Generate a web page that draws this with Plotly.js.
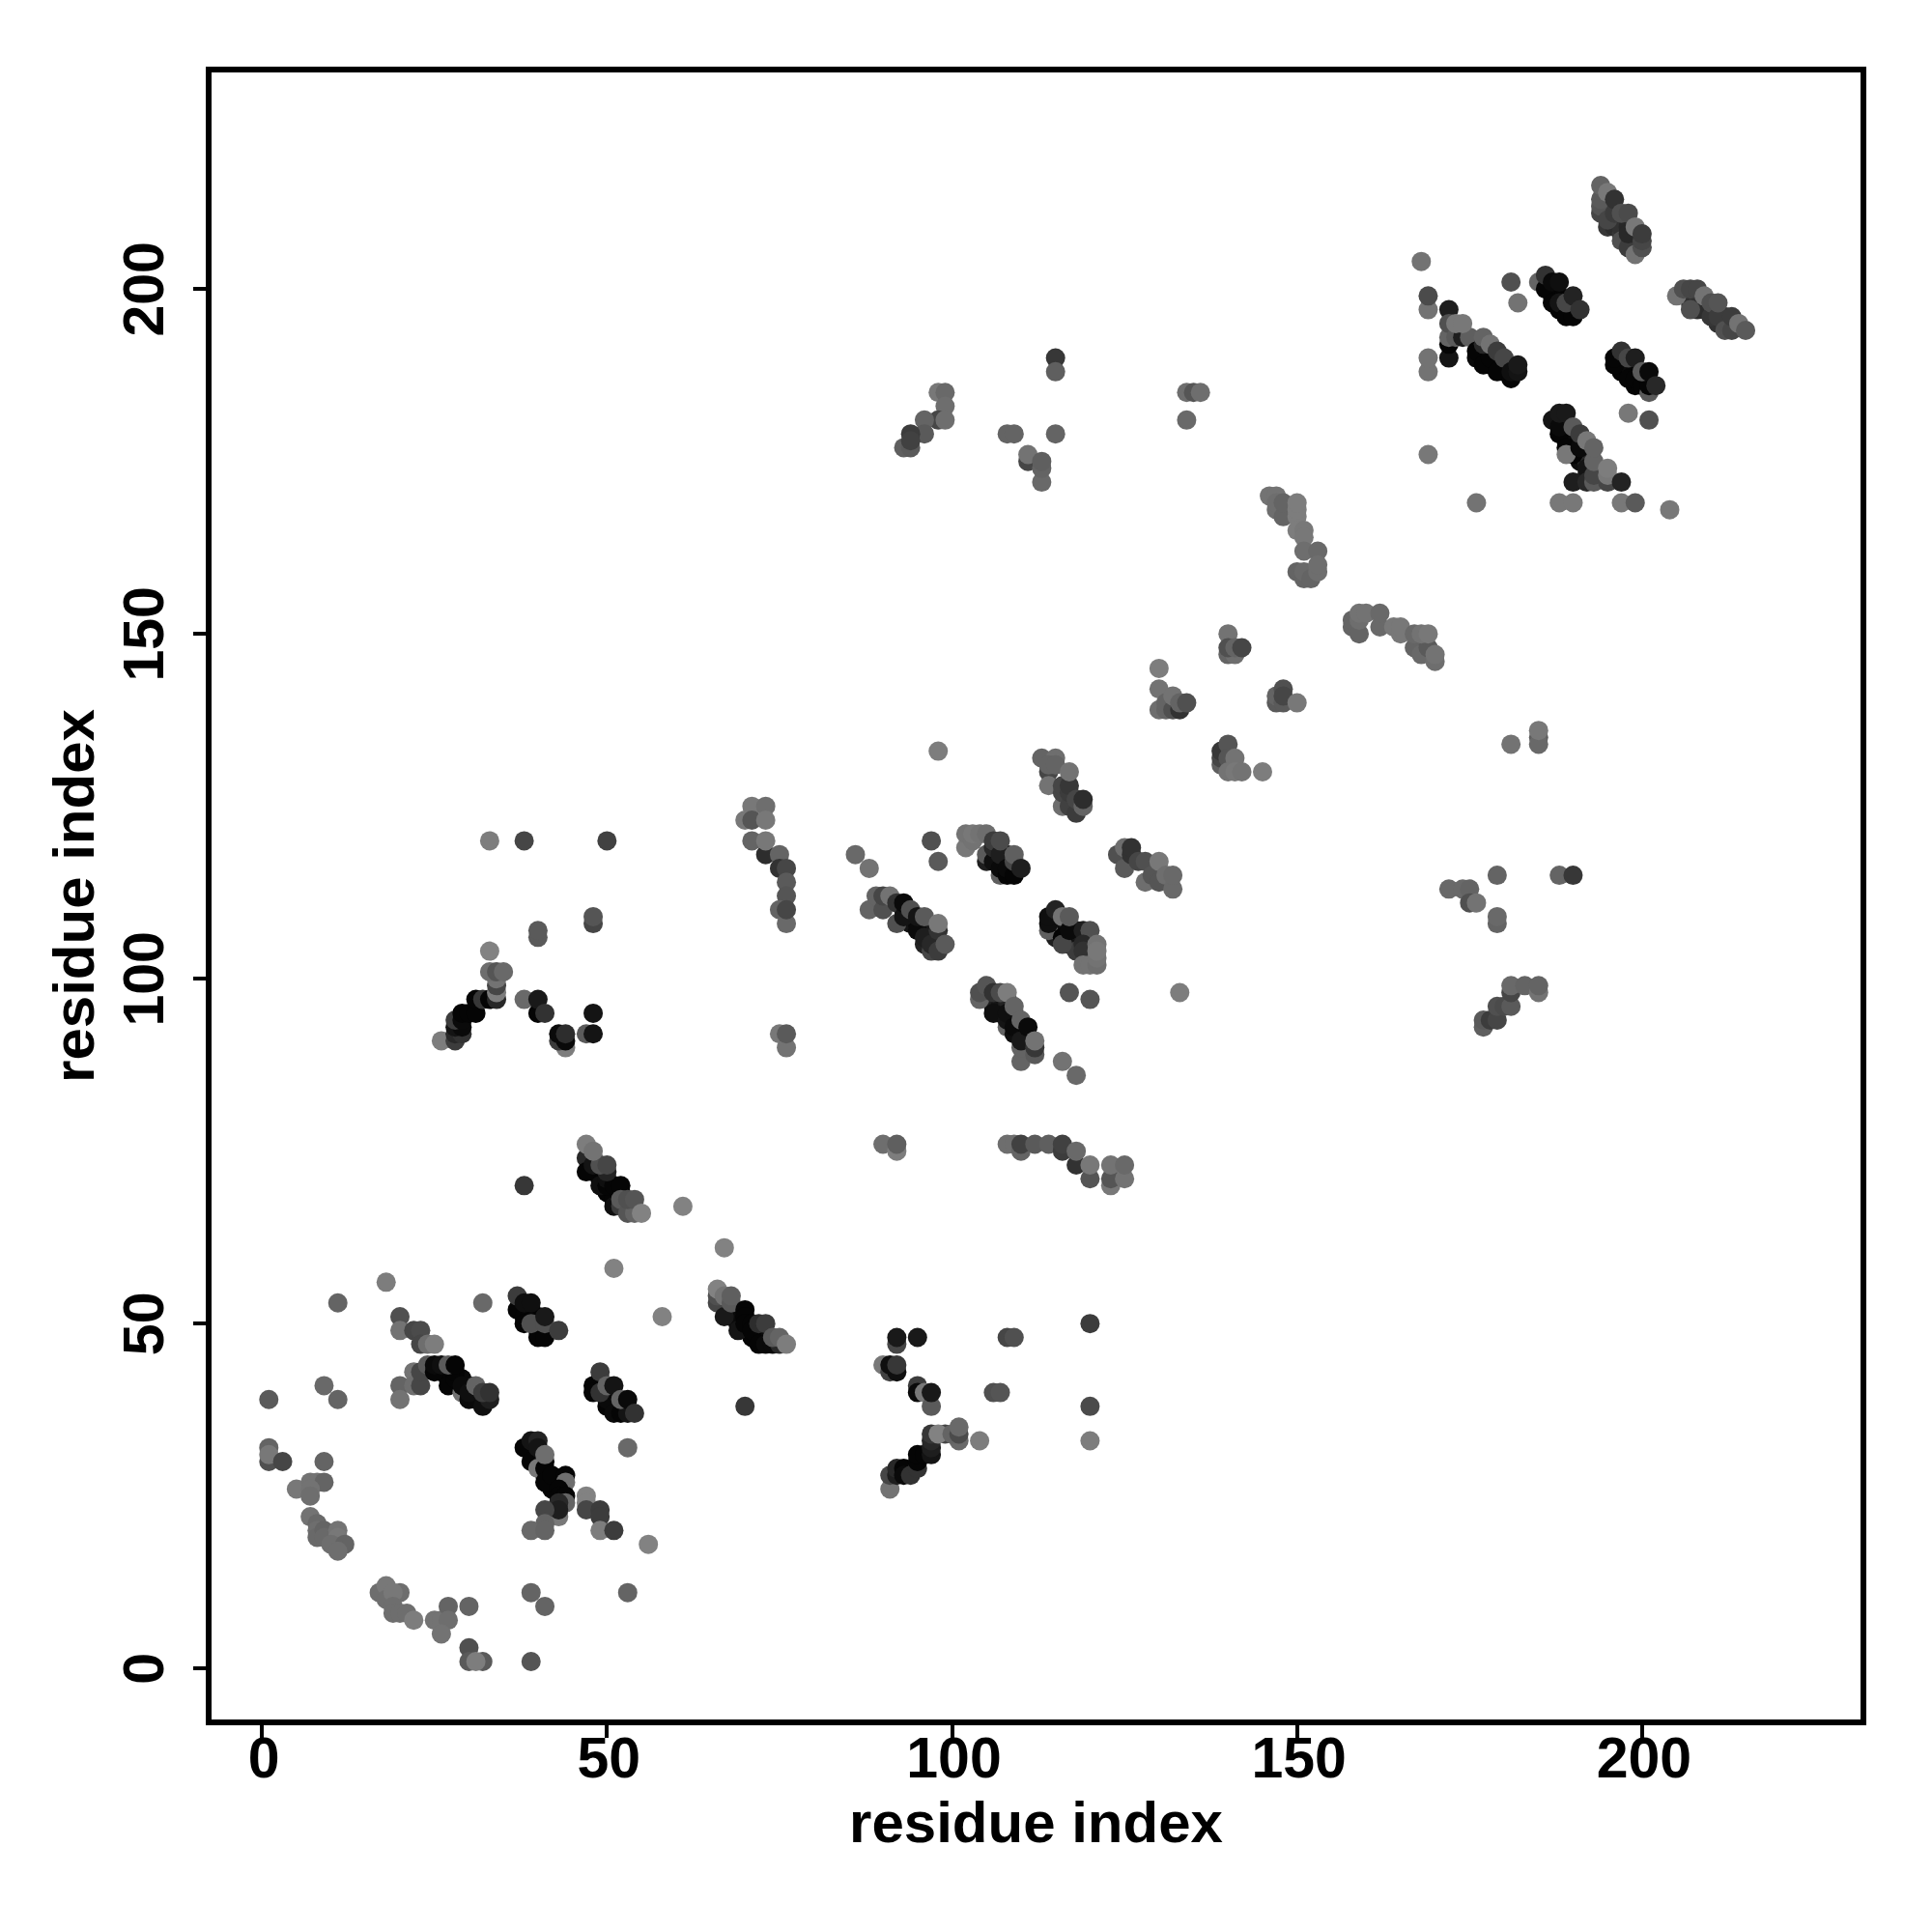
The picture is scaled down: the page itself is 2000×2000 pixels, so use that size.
<!DOCTYPE html>
<html><head><meta charset="utf-8">
<script src="https://cdn.plot.ly/plotly-3.0.1.min.js"></script>
<style>html,body{margin:0;padding:0;background:#fff}</style></head>
<body><div id="chart" style="width:2000px;height:2000px"></div>
<script>
// each contact: [residue x, residue y, grey level]
const lowerLeft = [[51,58,130],[18,56,125],[11,53,100],[32,53,105],[58,51,130],[20,51,80],[20,49,115],[22,49,70],[23,49,75],[23,47,70],[24,47,110],[25,47,125],[9,41,105],[11,39,100],[1,39,90],[53,32,105],[1,32,100],[1,30,80],[1,31,120],[3,30,70],[9,30,100],[5,26,120],[7,27,115],[8,27,115],[9,27,100],[7,26,115],[7,25,110],[7,22,115],[8,21,105],[8,20,110],[8,19,105],[9,20,100],[9,19,105],[11,20,115],[11,19,120],[10,18,110],[12,18,100],[11,17,110],[17,11,110],[18,12,120],[18,10,110],[20,11,110],[19,11,120],[19,9,110],[19,8,110],[20,8,110],[21,8,110],[22,7,125],[25,7,115],[26,7,115],[27,9,100],[27,7,110],[26,5,115],[30,9,100],[30,3,80],[30,1,90],[32,1,90],[31,1,125],[39,1,85],[56,18,130],[53,11,100],[39,11,100],[41,9,100]];
const block37 = [[37,52,5],[38,51,5],[38,50,5],[40,48,5],[41,48,5],[40,51,5],[39,50,80],[41,50,80],[37,54,60],[38,53,15],[39,53,15],[41,51,25],[43,49,60]];
const chain22 = [[20,41,100],[20,39,115],[22,43,115],[22,41,110],[23,41,70],[23,43,70],[24,44,90],[25,43,5],[27,41,5],[28,42,5],[28,43,5],[25,44,10],[26,44,15],[27,44,90],[28,44,5],[29,40,115],[29,41,10],[30,39,10],[31,39,10],[30,40,15],[32,38,15],[31,41,100],[33,39,30],[32,40,60],[33,40,50]];
const block48 = [[48,41,5],[48,40,5],[50,38,5],[50,39,10],[49,40,50],[51,37,10],[52,37,5],[53,37,20],[49,43,60],[50,41,100],[51,41,20],[52,39,100],[53,39,10],[54,37,50]];
const block38 = [[38,32,5],[39,30,5],[39,33,20],[40,33,35],[40,32,20],[40,29,120],[41,29,5],[41,27,5],[42,28,5],[41,31,110],[44,28,5],[44,27,110],[43,26,5],[43,25,5],[44,25,5],[43,22,120],[44,24,100],[43,24,40],[43,23,30],[41,23,70],[41,21,100],[39,20,105],[41,20,100],[47,25,130],[47,24,130],[47,23,70],[49,23,60],[49,22,60],[49,20,125],[51,20,60]];
const block47 = [[47,74,40],[47,72,5],[48,73,20],[49,70,15],[50,70,5],[50,71,15],[51,70,5],[52,70,5],[50,72,35],[51,67,15],[52,67,60],[49,73,80],[50,73,70],[47,76,125],[48,75,115],[52,68,90],[53,66,85],[54,66,100],[53,68,80],[54,68,85],[55,66,130],[61,67,130],[38,70,55]];
const block66 = [[67,61,130],[66,53,70],[66,54,80],[66,55,130],[67,51,25],[67,54,115],[68,53,90],[68,54,95],[69,49,20],[70,52,5],[70,51,5],[70,50,5],[71,50,5],[71,49,5],[72,47,5],[73,47,10],[74,47,10],[72,50,45],[73,50,60],[75,47,40],[74,48,90],[75,48,100],[76,47,125],[70,38,55]];
const block90 = [[90,76,110],[92,75,125],[92,76,95],[108,76,110],[109,76,110],[110,75,100],[110,76,65],[112,76,90],[114,76,95],[116,75,60],[116,76,65],[118,73,50],[118,75,105],[120,71,85],[120,73,120],[123,70,120],[123,71,85],[123,73,115],[125,71,115],[125,73,105],[120,50,60],[108,48,70],[109,48,80],[92,47,70],[92,48,25],[95,48,25],[90,44,120],[91,43,65],[92,43,15],[91,44,15],[92,44,55],[95,41,60],[95,40,10],[96,40,120],[97,38,90],[97,40,25],[106,40,80],[107,40,85],[120,38,75],[120,33,125],[104,33,125]];
const block91 = [[91,26,115],[91,28,70],[92,28,30],[92,29,40],[93,29,5],[93,28,10],[94,28,50],[95,29,50],[95,30,5],[95,31,5],[96,31,5],[97,31,20],[97,32,30],[97,33,40],[97,34,55],[101,33,105],[99,34,70],[98,34,130],[100,34,100],[101,34,75],[101,35,105]];
const block26 = [[26,91,125],[28,91,60],[28,92,40],[29,92,50],[28,93,20],[29,93,10],[28,94,60],[29,94,10],[29,95,5],[30,95,5],[31,95,5],[31,97,5],[32,97,55],[33,97,5],[34,97,40],[34,98,125],[34,99,70],[34,100,115],[33,101,110],[34,101,85],[35,101,105],[33,104,130],[33,120,125],[38,120,70],[50,120,65],[48,108,70],[48,109,85],[40,106,90],[40,107,90],[38,97,105],[40,95,5],[40,97,25],[41,95,50],[44,90,125],[43,91,60],[44,91,10],[43,92,10],[44,92,45],[47,92,90],[48,92,20],[48,95,20]];
const block70 = [[71,125,120],[73,125,110],[70,123,120],[71,123,85],[73,123,120],[71,120,100],[73,118,45],[73,120,120],[75,118,100],[75,116,50],[76,116,70],[76,114,90],[76,112,85],[75,110,100],[76,108,105],[76,110,70],[75,92,120],[76,90,115],[76,92,90],[86,118,105],[88,116,115]];
const block88 = [[88,110,100],[89,112,100],[90,110,80],[90,112,70],[91,112,115],[92,108,80],[92,111,50],[93,109,20],[93,111,10],[94,110,80],[95,107,10],[95,109,20],[96,106,30],[96,109,90],[97,104,70],[97,105,40],[98,104,60],[98,107,50],[98,108,120],[99,105,90],[98,133,125]];
const block102 = [[97,120,80],[98,117,90],[102,119,120],[102,121,115],[103,120,115],[103,121,120],[104,121,115],[105,118,90],[105,121,110],[106,117,15],[106,119,40],[106,120,60],[107,115,95],[107,116,10],[107,118,30],[107,120,75],[108,115,5],[108,116,10],[109,115,5],[109,117,70],[109,118,95],[110,116,30]];
const block113 = [[113,132,100],[115,132,110],[114,130,70],[114,131,100],[115,131,100],[114,128,115],[116,125,110],[116,127,70],[116,128,70],[117,125,65],[117,127,60],[117,128,55],[117,130,115],[118,124,60],[118,126,70],[119,125,100],[119,126,45]];
const block114 = [[114,107,95],[114,108,15],[114,109,15],[115,110,35],[116,106,5],[116,105,70],[116,109,115],[117,107,10],[117,109,90],[119,107,30],[120,107,80],[119,105,40],[119,104,50],[119,102,115],[120,102,115],[121,102,110],[121,103,115],[121,105,115],[121,104,120],[117,98,85],[120,97,85],[133,98,125]];
const block124 = [[124,118,80],[125,116,90],[125,119,110],[126,118,50],[126,119,50],[127,117,70],[128,114,110],[128,117,80],[129,115,85],[130,114,85],[130,117,120],[131,115,110],[132,113,105],[132,115,105]];
const block104 = [[104,97,100],[104,98,80],[105,99,85],[106,95,15],[106,98,50],[107,98,75],[108,93,100],[108,94,20],[108,95,15],[108,98,125],[109,92,15],[109,93,10],[109,96,100],[110,88,100],[110,90,100],[110,91,25],[110,94,100],[111,93,10],[112,89,90],[112,90,55],[112,91,115],[116,88,115],[118,86,105]];
const upperLeft = [[115,190,55],[115,188,95],[98,185,120],[99,185,105],[99,183,110],[98,181,70],[99,181,110],[96,181,100],[96,179,90],[93,177,95],[94,177,90],[94,179,60],[94,178,65],[108,179,100],[109,179,100],[115,179,100],[111,175,70],[111,176,115],[113,172,105],[113,174,100],[113,175,95],[134,181,105],[134,185,110],[135,185,85],[136,185,110]];
const diagonal = [[146,170,115],[147,168,110],[147,170,115],[147,169,110],[148,167,100],[148,169,100],[150,167,125],[150,168,125],[150,169,125],[150,165,125],[151,165,120],[151,164,120],[151,162,110],[153,162,105],[150,159,100],[151,158,100],[151,159,105],[152,158,100],[153,159,110],[153,160,110],[158,151,100],[158,152,100],[159,150,100],[159,152,110],[159,153,115],[160,153,115],[162,151,105],[162,153,105],[164,151,120],[165,150,120],[165,151,120],[167,148,100],[167,150,105],[168,147,105],[169,148,90],[170,146,110],[170,147,115],[168,150,115],[169,150,120]];
const block130 = [[130,145,125],[130,139,110],[130,142,115],[131,139,100],[131,140,100],[132,139,80],[132,141,115],[133,139,50],[133,140,100],[134,140,80],[140,150,115],[140,147,100],[141,147,110],[140,148,80],[141,148,100],[142,148,70],[147,140,90],[147,141,100],[148,142,80],[148,140,90],[148,141,70],[150,140,120],[139,131,95],[139,132,70],[139,133,55],[140,134,85],[140,132,85],[141,132,115],[140,130,115],[141,130,120],[142,130,115],[145,130,125]];
const lowerRight = [[181,134,115],[185,135,95],[185,134,105],[185,136,120],[172,113,105],[174,113,105],[175,113,100],[175,111,80],[176,111,115],[179,115,100],[179,108,100],[179,109,105],[188,115,100],[190,115,55],[177,93,95],[177,94,90],[178,94,60],[179,94,70],[179,96,80],[180,96,75],[181,96,90],[181,98,70],[181,99,105],[183,99,100],[185,98,115],[185,99,100]];
const block168 = [[168,204,115],[169,197,115],[169,199,75],[172,197,30],[169,188,115],[169,190,115],[172,190,20],[169,176,120],[176,169,115],[188,169,120],[190,169,120],[197,169,120],[199,169,90],[204,168,120],[181,201,80],[182,198,115],[198,182,120],[201,181,80]];
const block172 = [[172,192,5],[172,193,100],[172,195,80],[173,193,90],[174,193,30],[175,193,95],[173,195,120],[174,195,120],[176,190,10],[176,191,5],[177,189,5],[178,190,5],[177,192,40],[177,193,100],[179,188,5],[178,192,115],[179,191,60],[180,190,70],[181,187,5],[181,188,15],[182,188,20],[182,189,25]];
const block185 = [[185,201,100],[186,200,5],[186,202,50],[187,198,5],[187,201,10],[188,198,20],[188,201,15],[189,196,5],[190,196,5],[189,198,70],[190,199,35],[191,197,50]];
const block196 = [[196,189,5],[196,190,5],[198,187,5],[199,187,5],[197,191,50],[198,190,70],[199,190,30],[200,186,5],[201,185,90],[201,186,5],[200,188,90],[201,188,10],[202,186,40]];
const block187 = [[187,181,20],[188,179,5],[188,180,10],[188,182,25],[189,182,25],[189,177,5],[190,176,5],[189,176,120],[190,180,90],[191,177,10],[191,179,60],[192,174,20],[192,178,120],[190,172,30],[192,172,40],[193,172,90],[193,173,70],[193,175,100],[193,177,100],[195,172,70],[195,173,120],[195,174,125],[197,172,35]];
const block194 = [[194,211,70],[194,212,85],[194,213,90],[194,215,100],[195,210,70],[195,214,120],[196,211,60],[196,213,50],[197,207,80],[197,211,80],[198,206,60],[198,208,40],[198,211,75],[199,205,115],[199,209,120],[200,206,80],[200,207,70],[200,208,60]];
const block205 = [[205,199,115],[206,200,80],[207,197,80],[207,200,70],[208,200,70],[209,199,115],[210,196,55],[210,198,80],[211,196,60],[211,198,85],[212,194,80],[213,194,70],[213,196,60],[214,195,115],[215,194,90]];
const ridgeFill = [[39,51,5],[39,52,10],[40,49,5],[40,50,10],[26,43,5],[27,42,5],[29,42,10],[30,41,10],[31,40,10],[32,39,15],[49,41,5],[49,42,10],[50,40,10],[51,38,5],[51,39,20],[52,38,5],[39,32,5],[40,31,5],[40,30,5],[41,30,5],[41,28,5],[42,27,5],[42,26,5],[43,27,5],[48,74,40],[48,72,5],[49,72,10],[49,71,5],[50,69,5],[51,69,5],[51,68,5],[52,69,10],[68,51,15],[68,52,20],[69,50,10],[69,51,10],[71,48,5],[72,48,5],[72,49,10],[73,48,10],[93,110,30],[94,109,15],[94,108,20],[95,108,10],[96,107,15],[96,105,35],[97,106,25],[97,107,25],[107,117,15],[108,117,20],[105,117,30],[106,118,25],[108,118,30],[115,107,25],[115,108,10],[115,106,30],[116,107,10],[116,108,15],[117,106,20],[117,105,25],[118,105,40],[118,106,20],[118,107,30],[118,104,60],[106,96,25],[106,97,30],[107,96,20],[107,95,15],[108,96,30],[108,97,35],[109,94,20],[109,95,25],[110,92,15],[110,93,10],[111,91,25],[111,90,40],[177,190,5],[177,191,10],[178,189,5],[179,189,10],[179,190,15],[180,188,10],[180,189,10],[187,199,5],[187,200,5],[188,199,5],[188,197,5],[189,197,5],[197,189,5],[197,188,5],[198,188,5],[198,189,10],[199,188,5],[199,186,5],[200,187,10],[189,178,10],[189,179,5],[189,180,10],[190,177,5],[190,178,5],[190,179,10],[191,176,10],[191,175,15],[192,175,40],[192,173,30],[195,209,55],[195,212,50],[196,209,45],[196,210,40],[197,208,55],[197,209,50],[198,209,40],[199,207,45],[199,206,60],[207,198,50],[208,197,45],[208,198,50],[209,197,45],[211,195,50],[212,195,60],[212,196,55]];

const contacts = [].concat(ridgeFill,lowerLeft,block37,chain22,block48,block38,block47,block66,block90,block91,block26,block70,block88,block102,block113,block114,block124,block104,upperLeft,diagonal,block130,lowerRight,block168,block172,block185,block196,block187,block194,block205);
const tickValues = [0,50,100,150,200];
const tickLabels = ['0','50','100','150','200'];
const axisLabel = 'residue index';

const fontFamily = '"Liberation Sans", Arial, sans-serif';
const tickFont = {family:fontFamily, size:59, color:'#000'};
const titleFont = {family:fontFamily, size:60, color:'#000'};
const axisBase = {
  showgrid:false, zeroline:false, showline:true, mirror:true,
  linecolor:'#000', linewidth:6, ticks:'outside', ticklen:13, tickwidth:4, tickcolor:'#000',
  tickmode:'array', tickvals:tickValues, ticktext:tickLabels.map(t=>'<b>'+t+'</b>'),
  tickfont:tickFont
};
Plotly.newPlot('chart',[{
  type:'scatter', mode:'markers',
  x:contacts.map(c=>c[0]), y:contacts.map(c=>c[1]),
  marker:{size:20, color:contacts.map(c=>c[2]), cmin:0, cmax:255,
    colorscale:[[0,'#000'],[1,'#fff']], showscale:false, line:{width:0}},
  hoverinfo:'x+y'
}],{
  width:2000, height:2000, showlegend:false,
  paper_bgcolor:'#fff', plot_bgcolor:'#fff',
  margin:{l:219,r:74,t:74.5,b:219.5,autoexpand:false},
  xaxis:Object.assign({},axisBase,{range:[-7.3,231.65],ticklabelstandoff:-30,ticklabelshift:2,title:{text:'<b>'+axisLabel+'</b>',font:titleFont,standoff:11}}),
  yaxis:Object.assign({},axisBase,{range:[-7.4,231.4],tickangle:-90,ticklabelstandoff:7,ticklabelshift:9,title:{text:'<b>'+axisLabel+'</b>',font:titleFont,standoff:1}})
},{staticPlot:true});
</script></body></html>
